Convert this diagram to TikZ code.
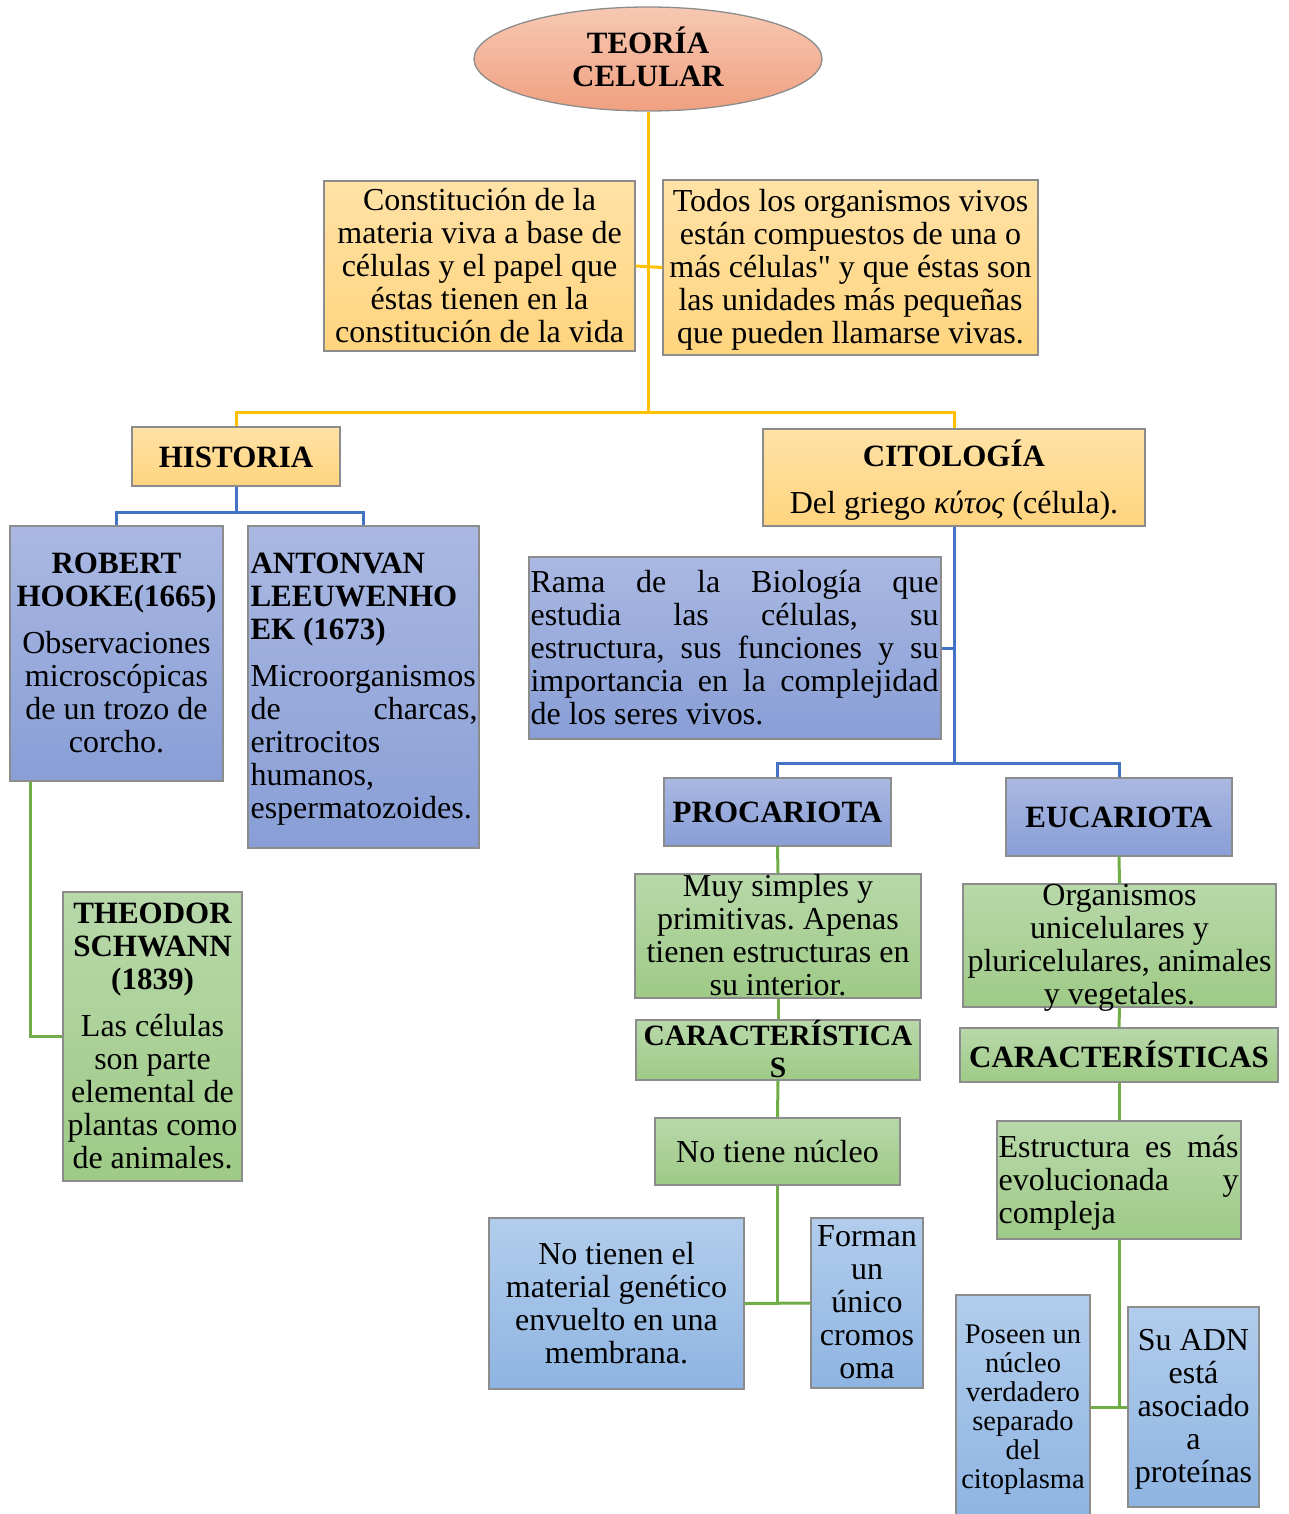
\documentclass[tikz,border=0pt]{standalone}
\usepackage{fontspec}
\setmainfont{Liberation Serif}
\usetikzlibrary{shapes.geometric}
\frenchspacing
\definecolor{orTop}{RGB}{255,226,166}
\definecolor{orBot}{RGB}{255,212,126}
\definecolor{elTop}{RGB}{247,200,178}
\definecolor{elBot}{RGB}{240,160,128}
\definecolor{puTop}{RGB}{170,184,226}
\definecolor{puBot}{RGB}{136,158,214}
\definecolor{grTop}{RGB}{184,216,170}
\definecolor{grBot}{RGB}{158,202,134}
\definecolor{lbTop}{RGB}{178,205,236}
\definecolor{lbBot}{RGB}{142,180,226}
\definecolor{boxline}{RGB}{140,140,140}
\definecolor{cYel}{RGB}{255,192,0}
\definecolor{cBlu}{RGB}{68,114,196}
\definecolor{cGrn}{RGB}{112,173,71}
\newcommand{\tb}[1]{{\fontsize{31}{33}\selectfont\bfseries #1}}
\newcommand{\tbs}[1]{{\fontsize{29.5}{32}\selectfont\bfseries #1}}
\tikzset{
  boxbase/.style={draw=boxline, line width=1.3pt, inner sep=0pt, rectangle},
  obox/.style={boxbase, top color=orTop, bottom color=orBot},
  pbox/.style={boxbase, top color=puTop, bottom color=puBot},
  gbox/.style={boxbase, top color=grTop, bottom color=grBot},
  lbox/.style={boxbase, top color=lbTop, bottom color=lbBot},
  txt/.style={font=\fontsize{32}{33}\selectfont, align=center, inner sep=0pt, yshift=-4pt,
    execute at begin node=\strut, execute at end node=\strut},
  smalltxt/.style={txt, font=\fontsize{28.5}{29}\selectfont},
  ylink/.style={draw=cYel, line width=3pt},
  blink/.style={draw=cBlu, line width=3pt},
  glink/.style={draw=cGrn, line width=3pt},
}
\begin{document}
\begin{tikzpicture}[x=1pt,y=-1pt]
\useasboundingbox (0,0) rectangle (1289,1514);
% ---------- boxes ----------
\node[ellipse, draw=boxline, line width=1.3pt, top color=elTop, bottom color=elBot,
      minimum width=348pt, minimum height=104pt, inner sep=0pt] (ell) at (648,59) {};
\node[obox, minimum width=311pt, minimum height=170pt] (A) at (479.5,266) {};
\node[obox, minimum width=375pt, minimum height=175pt] (B) at (850.5,267.5) {};
\node[obox, minimum width=208pt, minimum height=59pt] (hist) at (236,456.5) {};
\node[obox, minimum width=382pt, minimum height=97pt] (cito) at (954,477.5) {};
\node[pbox, minimum width=213pt, minimum height=255pt] (rob) at (116.5,653.5) {};
\node[pbox, minimum width=231pt, minimum height=322pt] (ant) at (363.5,687) {};
\node[gbox, minimum width=179pt, minimum height=289pt] (theo) at (152.5,1036.5) {};
\node[pbox, minimum width=412pt, minimum height=182pt] (rama) at (735,648) {};
\node[pbox, minimum width=227pt, minimum height=68pt] (proc) at (777.5,812) {};
\node[pbox, minimum width=226pt, minimum height=78pt] (euc) at (1119,817) {};
\node[gbox, minimum width=286pt, minimum height=124pt] (muy) at (778,936) {};
\node[gbox, minimum width=313pt, minimum height=123pt] (org) at (1119.5,945.5) {};
\node[gbox, minimum width=284pt, minimum height=60pt] (carA) at (778,1050) {};
\node[gbox, minimum width=318pt, minimum height=54pt] (carB) at (1119,1055) {};
\node[gbox, minimum width=245pt, minimum height=67pt] (nuc) at (777.5,1151.5) {};
\node[gbox, minimum width=244pt, minimum height=118pt] (estr) at (1119,1180) {};
\node[lbox, minimum width=255pt, minimum height=171pt] (notn) at (616.5,1303.5) {};
\node[lbox, minimum width=112pt, minimum height=170pt] (form) at (867,1303) {};
\node[lbox, minimum width=134pt, minimum height=224pt] (pos) at (1023,1407) {};
\node[lbox, minimum width=131pt, minimum height=200pt] (adn) at (1193.5,1407) {};
% ---------- connectors ----------
\coordinate (yj) at (648,412);
\draw[ylink] (ell.south) -- (yj);
\draw[ylink] (A.east) -- (B.west);
\draw[ylink] (yj) -| (hist.north);
\draw[ylink] (yj) -| (cito.north);
\coordinate (hj) at (236,512);
\draw[blink] (hist.south) -- (hj);
\draw[blink] (hj) -| (rob.north);
\draw[blink] (hj) -| (ant.north);
\coordinate (cj) at (954,763);
\draw[blink] (cito.south) -- (cj);
\draw[blink] (rama.east) -- (rama.east -| cj);
\draw[blink] (cj) -| (proc.north);
\draw[blink] (cj) -| (euc.north);
\draw[glink] ([xshift=21pt]rob.south west) |- (theo.west);
\draw[glink] (proc.south) -- (muy.north);
\draw[glink] (muy.south) -- (carA.north);
\draw[glink] (carA.south) -- (nuc.north);
\coordinate (nj) at (777.5,1303);
\draw[glink] (nuc.south) -- (nj);
\draw[glink] (notn.east) -- (form.west);
\draw[glink] (euc.south) -- (org.north);
\draw[glink] (org.south) -- (carB.north);
\draw[glink] (carB.south) -- (estr.north);
\coordinate (ej) at (1119,1407);
\draw[glink] (estr.south) -- (ej);
\draw[glink] (pos.east) -- (adn.west);
% ---------- texts ----------
\node[txt] (ell-t) at (648,58) {\tb{TEORÍA}\\\tb{CELULAR}};
\node[txt] (A-t) at (A.center) {Constitución de la\\materia viva a base de\\células y el papel que\\éstas tienen en la\\constitución de la vida};
\node[txt] (B-t) at (B.center) {Todos los organismos vivos\\están compuestos de una o\\más células\textquotedbl{} y que éstas son\\las unidades más pequeñas\\que pueden llamarse vivas.};
\node[txt] (hist-t) at (hist.center) {\tb{HISTORIA}};
\node[txt] (cito-t) at (cito.center) {\tb{CITOLOGÍA}\\[14pt]Del griego \textit{κύτος} (célula).};
\node[txt] (rob-t) at (rob.center) {\tb{ROBERT}\\\tb{HOOKE(1665)}\\[14pt]Observaciones\\microscópicas\\de un trozo de\\corcho.};
\node[txt, align=left, anchor=west] (ant-t) at ([xshift=3pt]ant.west) {\tb{ANTONVAN}\\\tb{LEEUWENHO}\\\tb{EK (1673)}\\[14pt]Microorganismos\\\makebox[227pt][s]{de charcas,}\\eritrocitos\\humanos,\\espermatozoides.};
\node[txt] (theo-t) at (theo.center) {\tb{THEODOR}\\\tb{SCHWANN}\\\tb{(1839)}\\[14pt]Las células\\son parte\\elemental de\\plantas como\\de animales.};
\node[txt, align=left, anchor=west] (rama-t) at ([xshift=2pt]rama.west) {\makebox[408pt][s]{Rama de la Biología que}\\\makebox[408pt][s]{estudia las células, su}\\\makebox[408pt][s]{estructura, sus funciones y su}\\\makebox[408pt][s]{importancia en la complejidad}\\de los seres vivos.};
\node[txt] (proc-t) at (proc.center) {\tb{PROCARIOTA}};
\node[txt] (euc-t) at (euc.center) {\tb{EUCARIOTA}};
\node[txt] (muy-t) at (muy.center) {Muy simples y\\primitivas. Apenas\\tienen estructuras en\\su interior.};
\node[txt] (org-t) at (org.center) {Organismos\\unicelulares y\\pluricelulares, animales\\y vegetales.};
\node[txt, font=\fontsize{30}{32}\selectfont] (carA-t) at (carA.center) {\tbs{CARACTERÍSTICA}\\\tbs{S}};
\node[txt] (carB-t) at (carB.center) {\tb{CARACTERÍSTICAS}};
\node[txt] (nuc-t) at (nuc.center) {No tiene núcleo};
\node[txt, align=left, anchor=west] (estr-t) at ([xshift=2pt]estr.west) {\makebox[240pt][s]{Estructura es más}\\\makebox[240pt][s]{evolucionada y}\\compleja};
\node[txt] (notn-t) at (notn.center) {No tienen el\\material genético\\envuelto en una\\membrana.};
\node[txt] (form-t) at (form.center) {Forman\\un\\único\\cromos\\oma};
\node[smalltxt] (pos-t) at (pos.center) {Poseen un\\núcleo\\verdadero\\separado\\del\\citoplasma};
\node[txt] (adn-t) at (adn.center) {Su ADN\\está\\asociado\\a\\proteínas};
\end{tikzpicture}
\end{document}
